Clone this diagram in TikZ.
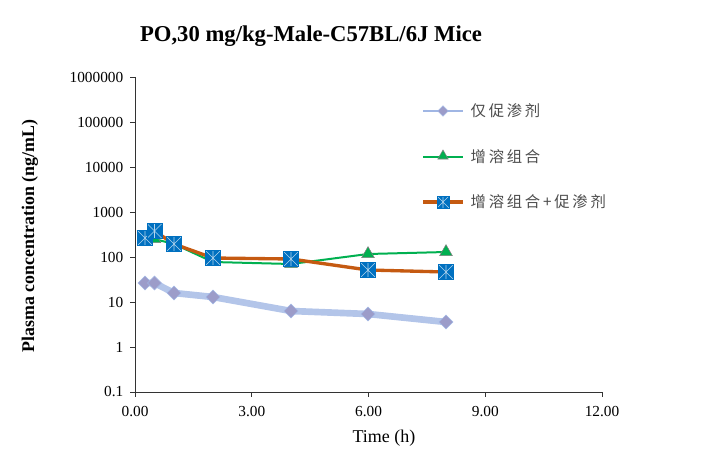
\documentclass[tikz,border=0pt]{standalone}
\usepackage{fontspec}
\setmainfont{Liberation Serif}
\newfontfamily\cjk[LetterSpace=18]{Noto Sans CJK SC}
\usetikzlibrary{positioning}
\usetikzlibrary{shapes}
\tikzset{>=latex}
\definecolor{blueline}{RGB}{160,182,228}
\definecolor{greenline}{RGB}{0,176,80}
\definecolor{orangeline}{RGB}{197,90,17}
\definecolor{sqblue}{RGB}{0,112,192}
\tikzset{tick/.style={font=\fontsize{11.5}{13}\selectfont}}
\tikzset{legtext/.style={font=\cjk\fontsize{11.5}{13}\selectfont, anchor=west, text=black!70}}
\tikzset{dmark/.style={diamond, fill=gray!70!blue!60, draw=blueline, inner sep=0pt, minimum size=10.5pt}}
\tikzset{tmark/.style={regular polygon, regular polygon sides=3, fill=greenline, draw=gray, inner sep=0pt, minimum size=11pt}}
\tikzset{smark/.style={rectangle, fill=sqblue, draw=sqblue, inner sep=0pt, minimum size=11pt,
    path picture={\draw[white!70!sqblue, line width=0.4pt]
        (path picture bounding box.north west) -- (path picture bounding box.south east)
        (path picture bounding box.south west) -- (path picture bounding box.north east)
        (path picture bounding box.north) -- (path picture bounding box.south);}}}
\begin{document}
\begin{tikzpicture}[x=0.75pt, y=-0.75pt]
    \useasboundingbox (0,0) rectangle (718,460);
    % ------- Title ------- %
    \node [font=\bfseries\fontsize{17}{19}\selectfont] (title) at (311,36) {PO,30 mg/kg-Male-C57BL/6J Mice};

    % ------- Axes ------- %
    \coordinate (origin) at (135,392);
    \coordinate (ytop) at (135,77);
    \coordinate (xend) at (602,392);
    \draw [black!80] (ytop) -- (origin) -- (xend);
    \foreach \v [count=\i from 0] in {0.1,1,10,100,1000,10000,100000,1000000} {
        \draw [black!80] (130,392-45*\i) -- (135,392-45*\i);
        \node [tick, anchor=east] (ylab\i) at (128,392-45*\i) {\v};
    }
    \foreach \v [count=\i from 0] in {0.00,3.00,6.00,9.00,12.00} {
        \draw [black!80] (135+116.75*\i,392) -- (135+116.75*\i,397);
        \node [tick] (xlab\i) at (135+116.75*\i,412) {\v};
    }
    \node [font=\bfseries\fontsize{13.4}{15}\selectfont, rotate=90] (ytitle) at (30,236) {Plasma concentration (ng/mL)};
    \node [font=\fontsize{13.5}{15}\selectfont] (xtitle) at (384,438) {Time (h)};

    % ------- Series ------- %
    \draw [blueline, line width=5pt, opacity=0.8, line join=round]
        (145,283) -- (154.5,283) -- (174,293) -- (213,297) -- (291,311) -- (368,314) -- (446,322);
    \foreach \x/\y [count=\i] in {145/283,154.5/283,174/293,213/297,291/311,368/314,446/322}
        \node [dmark] (d\i) at (\x,\y) {};

    \draw [greenline, line width=1.5pt]
        (145,238) -- (154.5,239) -- (174,244) -- (213,262) -- (291,264) -- (368,254) -- (446,252);
    \foreach \x/\y [count=\i] in {145/238,154.5/239,174/244,213/262,291/264,368/254,446/252}
        \node [tmark] (t\i) at (\x,\y) {};

    \draw [orangeline, line width=2.5pt]
        (145,238) -- (154.5,231) -- (174,244) -- (213,258) -- (291,259) -- (368,270) -- (446,272);
    \foreach \x/\y [count=\i] in {145/238,154.5/231,174/244,213/258,291/259,368/270,446/272}
        \node [smark] (s\i) at (\x,\y) {};

    % ------- Legend ------- %
    \draw [blueline, line width=1.5pt] (423,111) -- (463,111);
    \node [dmark, minimum size=8pt] (ld) at (443,111) {};
    \node [legtext] (l1) at (466,111) {仅促渗剂};
    \draw [greenline, line width=1.5pt] (423,157) -- (463,157);
    \node [tmark, minimum size=9pt] (lt) at (443,156) {};
    \node [legtext] (l2) at (466,157) {增溶组合};
    \draw [orangeline, line width=2.5pt] (423,202) -- (463,202);
    \node [smark, minimum size=9pt] (ls) at (443,202) {};
    \node [legtext] (l3) at (466,202) {增溶组合+促渗剂};
\end{tikzpicture}
\end{document}
